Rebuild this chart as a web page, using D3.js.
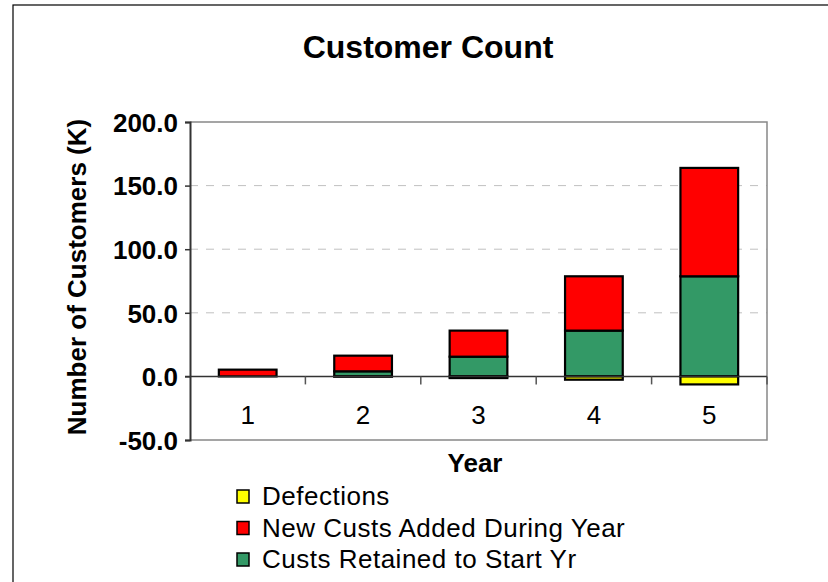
<!DOCTYPE html>
<html>
<head>
<meta charset="utf-8">
<script src="https://d3js.org/d3.v7.min.js"></script>
<style>
  body { margin: 0; background: #fff; }
  svg { font-family: "Liberation Sans", Arial, sans-serif; }
</style>
</head>
<body>
<svg id="chart" width="828" height="582"></svg>
<script>
// data (thousands of customers)
var years = ["1", "2", "3", "4", "5"];
var retained = [0, 4, 15.5, 36, 78.7];
var newCusts = [5.3, 12.3, 20.5, 42.7, 85.2];
var defections = [0, -0.2, -1.3, -2.6, -6.3];
var yTicks = [-50, 0, 50, 100, 150, 200];

var seriesNames = {
    retained: "Custs Retained to Start Yr",
    added: "New Custs Added During Year",
    defect: "Defections"
};
var colors = { retained: "#339966", added: "#ff0000", defect: "#ffff00" };

var rows = years.map(function(y, i) {
    return { year: y, retained: retained[i], added: newCusts[i], defect: defections[i] };
});

var svg = d3.select("#chart");

// outer chart frame
svg.append("rect")
    .attr("x", 13).attr("y", 5)
    .attr("width", 840).attr("height", 600)
    .attr("fill", "none").attr("stroke", "#000").attr("stroke-width", 1.2);

var plotL = 190, plotR = 767, plotT = 122, plotB = 440;

var x = d3.scaleBand().domain(years).range([plotL, plotR]).paddingInner(0.5).paddingOuter(0.25);
var xb = d3.scaleBand().domain(years).range([plotL, plotR]);
var y = d3.scaleLinear().domain([-50, 200]).range([plotB, plotT]);

// gridlines
svg.append("g").selectAll("line")
    .data([50, 100, 150])
    .enter().append("line")
    .attr("x1", plotL).attr("x2", plotR)
    .attr("y1", function(d) { return y(d); })
    .attr("y2", function(d) { return y(d); })
    .attr("stroke", "#c0c0c0")
    .attr("stroke-dasharray", "8,8");

// plot area border (top, right, bottom)
svg.append("path")
    .attr("d", "M" + plotL + "," + y(200) + "H" + plotR + "V" + y(-50) + "H" + plotL)
    .attr("fill", "none").attr("stroke", "#888").attr("stroke-width", 1.5);

// stacked bars
var stack = d3.stack()
    .keys(["retained", "added", "defect"])
    .offset(d3.stackOffsetDiverging);
var layers = stack(rows);

svg.append("g").selectAll("g")
    .data(layers)
    .enter().append("g")
    .attr("fill", function(d) { return colors[d.key]; })
    .selectAll("rect")
    .data(function(d) { return d.filter(function(p) { return Math.abs(p[1] - p[0]) > 0.001; }); })
    .enter().append("rect")
    .attr("x", function(d) { return x(d.data.year); })
    .attr("width", x.bandwidth())
    .attr("y", function(d) { return y(Math.max(d[0], d[1])); })
    .attr("height", function(d) { return Math.abs(y(d[0]) - y(d[1])); })
    .attr("stroke", "#000")
    .attr("stroke-width", 2.2);

// y axis
var yAxis = d3.axisLeft(y)
    .tickValues(yTicks)
    .tickSize(5)
    .tickFormat(function(d) { return d.toFixed(1); });
var gy = svg.append("g")
    .attr("transform", "translate(" + plotL + ",0)")
    .call(yAxis);
gy.select(".domain").attr("stroke", "#333").attr("stroke-width", 2);
gy.selectAll(".tick line").attr("stroke", "#333").attr("stroke-width", 1.5);
gy.selectAll(".tick text")
    .attr("x", -12)
    .attr("dy", "0.36em")
    .attr("font-size", 26)
    .attr("font-weight", "bold")
    .attr("fill", "#000");

// zero line with category ticks
svg.append("line")
    .attr("x1", plotL - 5).attr("x2", plotR)
    .attr("y1", y(0)).attr("y2", y(0))
    .attr("stroke", "#333").attr("stroke-width", 1.5);
var bounds = years.slice(1).map(function(d) { return xb(d); }).concat([plotR]);
svg.append("g").selectAll("line")
    .data(bounds)
    .enter().append("line")
    .attr("x1", function(d) { return d; }).attr("x2", function(d) { return d; })
    .attr("y1", y(0)).attr("y2", y(0) + 8)
    .attr("stroke", "#555").attr("stroke-width", 1.5);

// category labels
svg.append("g").selectAll("text")
    .data(years)
    .enter().append("text")
    .attr("x", function(d) { return xb(d) + xb.bandwidth() / 2; })
    .attr("y", 424)
    .attr("text-anchor", "middle")
    .attr("font-size", 26)
    .text(function(d) { return d; });

// titles
svg.append("text")
    .attr("x", 428).attr("y", 58)
    .attr("text-anchor", "middle")
    .attr("font-size", 32)
    .attr("font-weight", "bold")
    .text("Customer Count");

svg.append("text")
    .attr("transform", "translate(86,277) rotate(-90)")
    .attr("text-anchor", "middle")
    .attr("font-size", 26)
    .attr("font-weight", "bold")
    .text("Number of Customers (K)");

svg.append("text")
    .attr("x", 475).attr("y", 472)
    .attr("text-anchor", "middle")
    .attr("font-size", 26)
    .attr("font-weight", "bold")
    .text("Year");

// legend
var legendKeys = ["defect", "added", "retained"];
var lg = svg.append("g").selectAll("g")
    .data(legendKeys)
    .enter().append("g")
    .attr("transform", function(d, i) { return "translate(237," + (490 + i * 31.5) + ")"; });
lg.append("rect")
    .attr("width", 12).attr("height", 13)
    .attr("fill", function(d) { return colors[d]; })
    .attr("stroke", "#000").attr("stroke-width", 1.5);
lg.append("text")
    .attr("x", 25).attr("y", 15)
    .attr("font-size", 26)
    .attr("letter-spacing", 0.5)
    .text(function(d) { return seriesNames[d]; });
</script>
</body>
</html>
